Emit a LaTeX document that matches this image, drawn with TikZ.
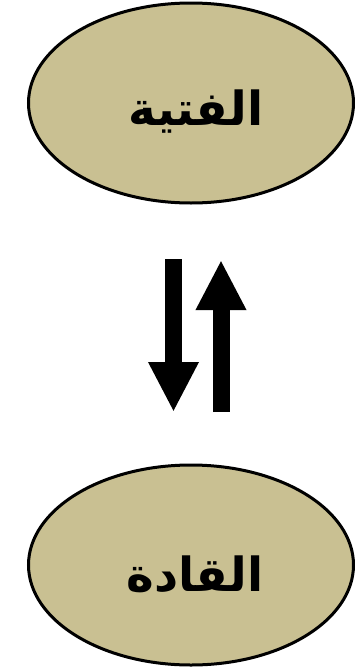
\documentclass[tikz,border=0pt]{standalone}
\usepackage{fontspec}
\usetikzlibrary{shapes.geometric,arrows.meta}
\TeXXeTstate=1
\newfontfamily\arabicfont[Script=Arabic]{DejaVu Sans}
\definecolor{beige}{RGB}{201,192,146}
\tikzset{
  oval/.style={ellipse, draw=black, line width=3pt, fill=beige, minimum width=325pt, minimum height=200pt, inner sep=0pt},
  lbl/.style={font=\arabicfont\bfseries\fontsize{47}{56}\selectfont, inner sep=0pt},
  bigarrow/.style={line width=17pt, -{Triangle[width=47pt,length=50pt]}}
}
\begin{document}
\begin{tikzpicture}[x=1pt,y=-1pt]
\useasboundingbox[fill=white] (0,0) rectangle (354,672);
\node[oval] (top) at (191,103) {};
\node[lbl] (toptext) at (196,112) {\beginR الفتية\endR};
\node[oval] (bot) at (191,565) {};
\node[lbl] (bottext) at (195,574) {\beginR القادة\endR};
\coordinate (d1) at (173.5,259);
\coordinate (d2) at (173.5,412);
\coordinate (u1) at (221,412);
\coordinate (u2) at (221,260);
\draw[bigarrow] (d1) -- (d2);
\draw[bigarrow] (u1) -- (u2);
\end{tikzpicture}
\end{document}
